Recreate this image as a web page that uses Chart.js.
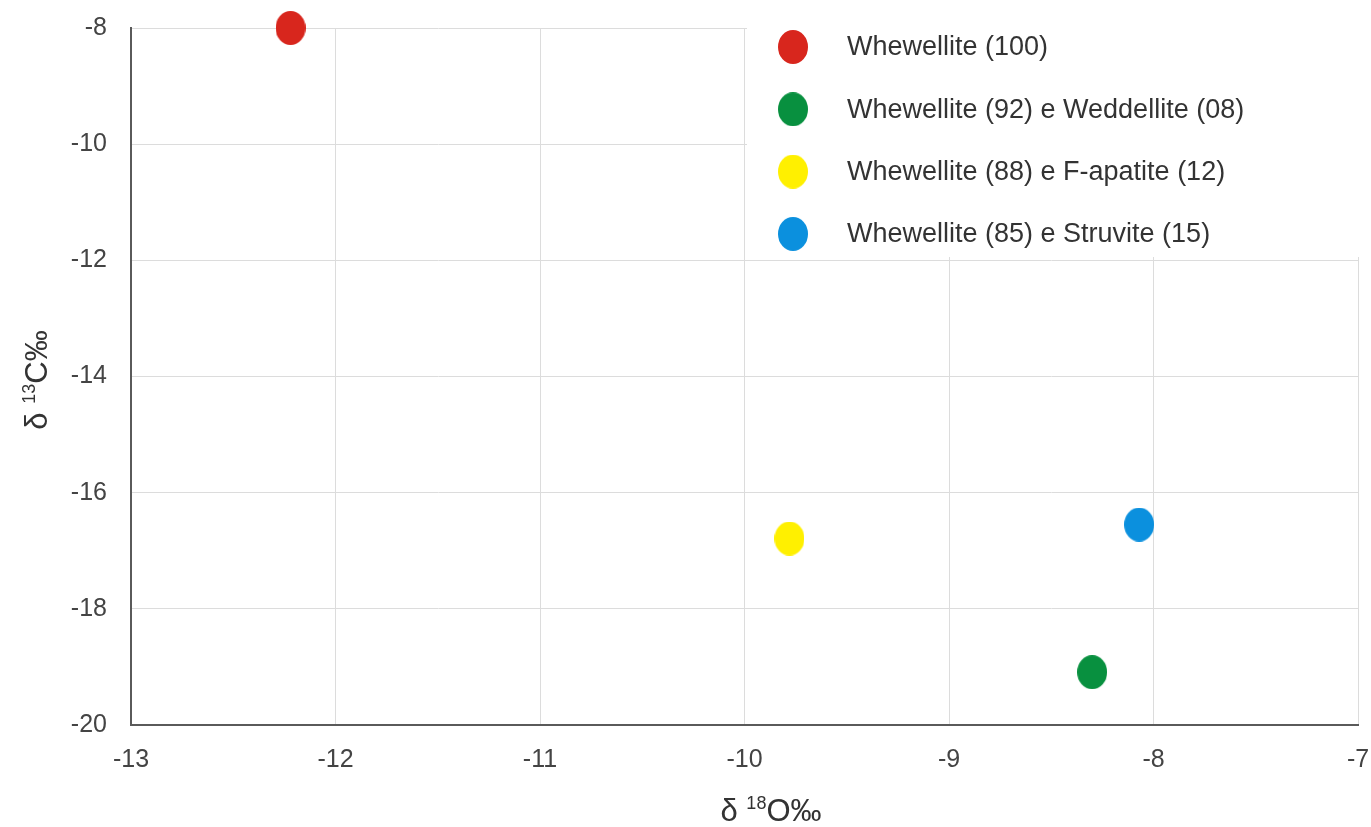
<!DOCTYPE html>
<html>
<head>
<meta charset="utf-8">
<script src="https://cdn.jsdelivr.net/npm/chart.js@4"></script>
<style>
  body { margin: 0; background: #fff; }
  #wrap { width: 1371px; height: 827px; position: relative; }
</style>
</head>
<body>
<div id="wrap"><canvas id="myChart"></canvas></div>
<script>
'use strict';

// data
const seriesNames = [
    'Whewellite (100)',
    'Whewellite (92) e Weddellite (08)',
    'Whewellite (88) e F-apatite (12)',
    'Whewellite (85) e Struvite (15)'
];
const d18O = [-12.22, -8.30, -9.78, -8.07];   // x
const d13C = [-8.0, -19.09, -16.79, -16.55];  // y
const seriesColors = ['#d8261d', '#08903f', '#fff000', '#0b90de'];

const xTicks = [-13, -12, -11, -10, -9, -8, -7];
const yTicks = [-20, -18, -16, -14, -12, -10, -8];

const FONT = '"Liberation Sans", Arial, sans-serif';

// the dots in the picture are a bit taller than wide
const makeDot = color => {
    const c = document.createElement('canvas');
    c.width = 30;
    c.height = 34;
    const g = c.getContext('2d');
    g.fillStyle = color;
    g.beginPath();
    g.ellipse(15, 17, 15, 17, 0, 0, Math.PI * 2);
    g.fill();
    return c;
};
const dots = seriesColors.map(makeDot);

const datasets = seriesNames.map((name, i) => ({
    label: name,
    data: [{ x: d18O[i], y: d13C[i] }],
    pointStyle: dots[i],
    backgroundColor: seriesColors[i],
    borderColor: seriesColors[i],
    clip: false
}));

// draws "δ ¹³C‰" style text with a real raised number
const drawRich = (ctx, parts, cx, cy) => {
    let total = 0;
    parts.forEach(p => {
        ctx.font = p.size + 'px ' + FONT;
        p.w = ctx.measureText(p.text).width;
        total += p.w;
    });
    let x = cx - total / 2;
    ctx.textAlign = 'left';
    ctx.textBaseline = 'alphabetic';
    parts.forEach(p => {
        ctx.font = p.size + 'px ' + FONT;
        ctx.fillText(p.text, x, cy + 11 - (p.raise || 0));
        x += p.w;
    });
};

const extras = {
    id: 'extras',
    afterDatasetsDraw(chart) {
        const ctx = chart.ctx;
        ctx.save();
        // legend box sits on top of the grid
        ctx.fillStyle = '#fff';
        ctx.fillRect(747, 0, 1371 - 747, 257);
        ctx.fillStyle = '#333';
        ctx.font = '27px ' + FONT;
        ctx.textBaseline = 'middle';
        ctx.textAlign = 'left';
        seriesNames.forEach((name, i) => {
            const y = 47 + i * 62.3;
            ctx.drawImage(dots[i], 793 - 15, y - 17);
            ctx.fillText(name, 847, y + 1);
        });

        // axis titles
        ctx.fillStyle = '#333';
        drawRich(ctx, [
            { text: 'δ ', size: 31 },
            { text: '18', size: 18, raise: 12 },
            { text: 'O‰', size: 31 }
        ], 771, 810);

        ctx.translate(36, 380);
        ctx.rotate(-Math.PI / 2);
        drawRich(ctx, [
            { text: 'δ ', size: 31 },
            { text: '13', size: 18, raise: 12 },
            { text: 'C‰', size: 31 }
        ], 0, 0);
        ctx.restore();
    }
};

// no extra room for tick labels that hang over the ends
const noOverhang = s => {
    s.paddingLeft = 0;
    s.paddingRight = 0;
    s.paddingTop = 0;
    s.paddingBottom = 0;
};

const ctx = document.getElementById('myChart');
const myChart = new Chart(ctx, {
    type: 'scatter',
    data: { datasets },
    plugins: [extras],
    options: {
        responsive: true,
        maintainAspectRatio: false,
        animation: false,
        layout: { padding: { top: 28, right: 13, left: 0, bottom: 0 } },
        plugins: {
            legend: { display: false },
            tooltip: { enabled: false }
        },
        scales: {
            x: {
                type: 'linear',
                min: xTicks[0],
                max: xTicks[xTicks.length - 1],
                afterBuildTicks: s => { s.ticks = xTicks.map(v => ({ value: v })); },
                afterFit: s => { s.height = 102; noOverhang(s); },
                grid: { color: '#dcdcdc', drawTicks: false },
                border: { color: '#5a5a5a', width: 2 },
                ticks: {
                    padding: 20,
                    color: '#444',
                    font: { family: FONT, size: 25 },
                    maxRotation: 0
                }
            },
            y: {
                type: 'linear',
                min: yTicks[0],
                max: yTicks[yTicks.length - 1],
                afterBuildTicks: s => { s.ticks = yTicks.map(v => ({ value: v })); },
                afterFit: s => { s.width = 131; noOverhang(s); },
                grid: { color: '#dcdcdc', drawTicks: false },
                border: { color: '#5a5a5a', width: 2 },
                ticks: {
                    padding: 24,
                    color: '#444',
                    font: { family: FONT, size: 25 }
                }
            }
        }
    }
});
</script>
</body>
</html>
